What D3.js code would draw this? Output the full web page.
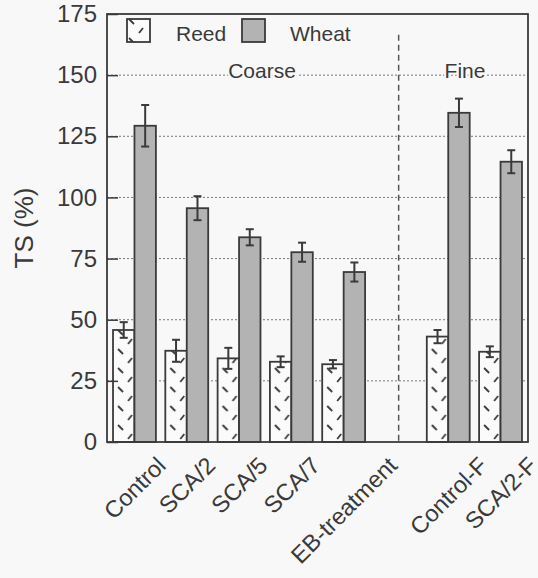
<!DOCTYPE html>
<html>
<head>
<meta charset="utf-8">
<script src="https://cdn.jsdelivr.net/npm/d3@7"></script>
<style>
  body { margin: 0; background: #f8f8f8; }
  svg { display: block; font-family: "Liberation Sans", Arial, sans-serif; }
</style>
</head>
<body>
<svg id="chart" width="538" height="578"></svg>
<script>
// values, TS (%)
var categories = ["Control", "SCA/2", "SCA/5", "SCA/7", "EB-treatment", "Control-F", "SCA/2-F"];
var reedTS    = [45.8, 37.3, 34.2, 32.8, 31.8, 43.1, 36.9];
var reedErr   = [3.2, 4.5, 4.3, 2.2, 1.7, 2.7, 2.2];
var wheatTS   = [129.3, 95.6, 83.7, 77.6, 69.5, 134.6, 114.6];
var wheatErr  = [8.5, 4.9, 3.3, 3.9, 3.9, 5.8, 4.7];
var series    = ["Reed", "Wheat"];
var yTicks    = [0, 25, 50, 75, 100, 125, 150, 175];

var ink = "#3a3a3a";
var svg = d3.select("#chart");
var pLeft = 107, pRight = 528, pTop = 14, pBottom = 442;

// an empty slot between the coarse and fine groups
var slots = categories.slice(0, 5).concat(["gap"], categories.slice(5));

var x = d3.scaleBand().domain(slots).range([pLeft, pRight])
    .paddingInner(0.18).paddingOuter(0.115);
var xs = d3.scaleBand().domain(series).range([0, x.bandwidth()]);
var y = d3.scaleLinear().domain([0, 175]).range([pBottom, pTop]);

var rows = [];
categories.forEach(function(c, i) {
    rows.push({cat: c, s: "Reed", v: reedTS[i], e: reedErr[i]});
    rows.push({cat: c, s: "Wheat", v: wheatTS[i], e: wheatErr[i]});
});

// hatch for the reed bars: short dashes, "\" then "/"
var defs = svg.append("defs");
function hatch(id, px, py, w) {
    var p = defs.append("pattern").attr("id", id)
        .attr("patternUnits", "userSpaceOnUse")
        .attr("x", px).attr("y", py)
        .attr("width", w).attr("height", 19);
    p.append("rect").attr("width", w).attr("height", 19).attr("fill", "#fbfbfb");
    p.append("line").attr("x1", 5).attr("y1", 2).attr("x2", 10).attr("y2", 7)
        .attr("stroke", ink).attr("stroke-width", 1.8);
    p.append("line").attr("x1", 19).attr("y1", 11).attr("x2", 15).attr("y2", 16)
        .attr("stroke", ink).attr("stroke-width", 1.8);
}
hatch("reedHatch", x(slots[0]), y(0), x.step());
hatch("reedLegend", 124, 17, 30);

svg.append("rect").attr("x", pLeft).attr("y", pTop)
    .attr("width", pRight - pLeft).attr("height", pBottom - pTop)
    .attr("fill", "#f8f8f8");

// dotted grid
svg.append("g").selectAll("line")
    .data(yTicks.slice(1, -1))
    .enter().append("line")
        .attr("x1", pLeft).attr("x2", pRight)
        .attr("y1", function(d) { return y(d); })
        .attr("y2", function(d) { return y(d); })
        .attr("stroke", "#777").attr("stroke-width", 1)
        .attr("stroke-dasharray", "2,2");

// coarse / fine divider
var divX = x("gap") + x.step() / 2 - 2;
svg.append("line")
    .attr("x1", divX).attr("x2", divX)
    .attr("y1", y(166.5)).attr("y2", y(0))
    .attr("stroke", "#555").attr("stroke-width", 1.5)
    .attr("stroke-dasharray", "6,4");

// bars
svg.append("g").selectAll("rect")
    .data(rows)
    .enter().append("rect")
        .attr("x", function(d) { return x(d.cat) + xs(d.s); })
        .attr("y", function(d) { return y(d.v); })
        .attr("width", xs.bandwidth())
        .attr("height", function(d) { return y(0) - y(d.v); })
        .attr("fill", function(d) { return d.s == "Reed" ? "url(#reedHatch)" : "#b3b3b3"; })
        .attr("stroke", ink).attr("stroke-width", 1.8);

// error bars
var err = svg.append("g").attr("stroke", ink).attr("stroke-width", 2)
    .selectAll("g").data(rows).enter().append("g")
    .attr("transform", function(d) {
        return "translate(" + (x(d.cat) + xs(d.s) + xs.bandwidth() / 2) + ",0)";
    });
err.append("line")
    .attr("y1", function(d) { return y(d.v + d.e); })
    .attr("y2", function(d) { return y(d.v - d.e); });
err.append("line").attr("x1", -4).attr("x2", 4)
    .attr("y1", function(d) { return y(d.v + d.e); })
    .attr("y2", function(d) { return y(d.v + d.e); });
err.append("line").attr("x1", -4).attr("x2", 4)
    .attr("y1", function(d) { return y(d.v - d.e); })
    .attr("y2", function(d) { return y(d.v - d.e); });

// frame
svg.append("rect").attr("x", pLeft).attr("y", pTop)
    .attr("width", pRight - pLeft).attr("height", pBottom - pTop)
    .attr("fill", "none").attr("stroke", ink).attr("stroke-width", 1.8);

// y axis, ticks inside
var yAxis = svg.append("g").attr("transform", "translate(" + pLeft + ",0)")
    .call(d3.axisLeft(y).tickValues(yTicks).tickSize(-11).tickPadding(10));
yAxis.select(".domain").remove();
yAxis.selectAll("line").attr("stroke", ink).attr("stroke-width", 1.5);
yAxis.selectAll("text").attr("font-size", 24).attr("fill", ink)
    .attr("font-family", "Liberation Sans, Arial, sans-serif");

svg.append("text")
    .attr("transform", "translate(33,228) rotate(-90)")
    .attr("text-anchor", "middle")
    .attr("font-size", 26).attr("fill", ink)
    .text("TS (%)");

// category labels at 45 degrees, centred under each group
var labels = svg.append("g").selectAll("text")
    .data(categories)
    .enter().append("text")
        .attr("text-anchor", "end")
        .attr("font-size", 23.5).attr("fill", ink)
        .text(function(d) { return d; });
labels.attr("transform", function(d) {
    var L = this.getComputedTextLength();
    var cx = x(d) + x.bandwidth() / 2 + 0.354 * (L + 17);
    return "translate(" + cx + ",467) rotate(-45)";
});

// legend
svg.append("rect").attr("x", 127).attr("y", 19).attr("width", 23).attr("height", 23)
    .attr("fill", "url(#reedLegend)").attr("stroke", ink).attr("stroke-width", 1.8);
svg.append("text").attr("x", 176).attr("y", 41).attr("font-size", 21).attr("fill", ink).text("Reed");
svg.append("rect").attr("x", 242).attr("y", 19).attr("width", 23).attr("height", 23)
    .attr("fill", "#b3b3b3").attr("stroke", ink).attr("stroke-width", 1.8);
svg.append("text").attr("x", 290).attr("y", 41).attr("font-size", 21).attr("fill", ink).text("Wheat");

// group titles
svg.selectAll(".grp")
    .data([["Coarse", 262], ["Fine", 465]])
    .enter().append("text")
        .attr("x", function(d) { return d[1]; }).attr("y", 78)
        .attr("text-anchor", "middle").attr("font-size", 21).attr("fill", ink)
        .attr("stroke", "#f8f8f8").attr("stroke-width", 4).attr("paint-order", "stroke")
        .text(function(d) { return d[0]; });
</script>
</body>
</html>
